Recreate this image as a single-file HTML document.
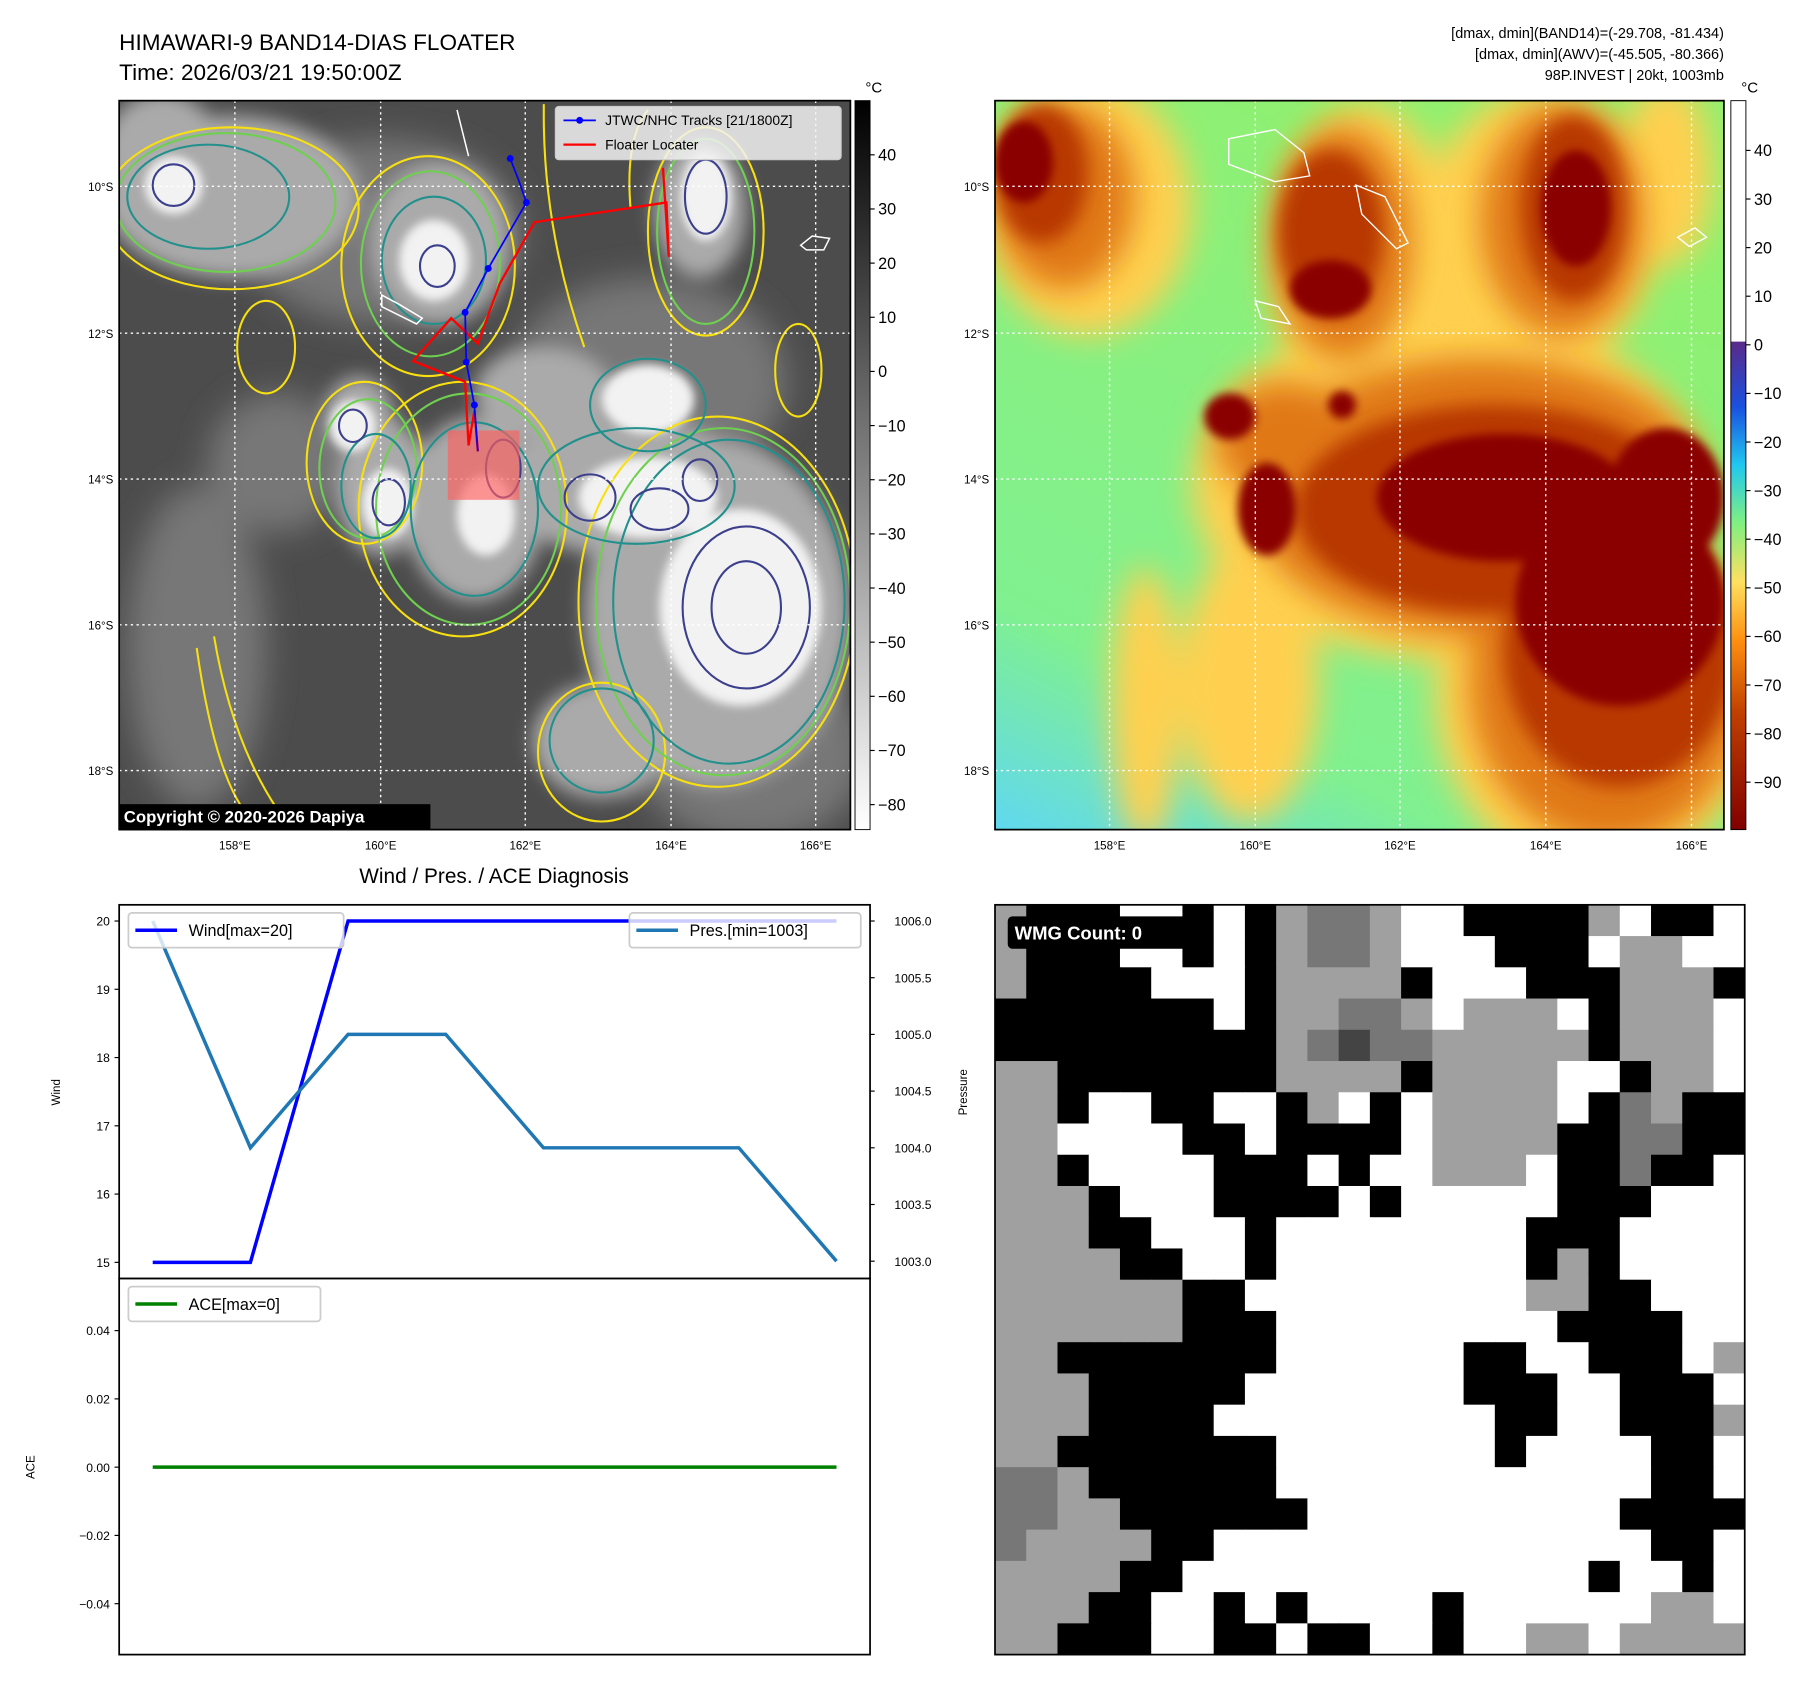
<!DOCTYPE html>
<html><head><meta charset="utf-8"><style>
html,body{margin:0;padding:0;background:#fff;}
svg{display:block;font-family:"Liberation Sans","DejaVu Sans",sans-serif;}
</style></head><body>
<svg id="fig" width="1813" height="1690" viewBox="0 0 1567 1460.6" preserveAspectRatio="none" xmlns="http://www.w3.org/2000/svg">
<defs>
<filter id="b8" x="-50%" y="-50%" width="200%" height="200%"><feGaussianBlur stdDeviation="8"/></filter>
<filter id="b4" x="-50%" y="-50%" width="200%" height="200%"><feGaussianBlur stdDeviation="4"/></filter>
<filter id="b14" x="-50%" y="-50%" width="200%" height="200%"><feGaussianBlur stdDeviation="14"/></filter>
<clipPath id="cl"><rect x="103" y="87" width="632" height="630"/></clipPath>
<clipPath id="cr"><rect x="860" y="87" width="630" height="630"/></clipPath>
<linearGradient id="gcb" x1="0" y1="0" x2="0" y2="1"><stop offset="0" stop-color="#000"/><stop offset="1" stop-color="#fff"/></linearGradient>
<linearGradient id="ccb" x1="0" y1="0" x2="0" y2="1">
<stop offset="0" stop-color="#fff"/><stop offset="0.33" stop-color="#fff"/><stop offset="0.331" stop-color="#5a2a8a"/>
<stop offset="0.42" stop-color="#1a50e0"/><stop offset="0.5" stop-color="#20c8f0"/><stop offset="0.58" stop-color="#80f080"/>
<stop offset="0.66" stop-color="#ffe060"/><stop offset="0.74" stop-color="#ff9010"/><stop offset="0.84" stop-color="#c04000"/><stop offset="1" stop-color="#800000"/></linearGradient>
<linearGradient id="rbg" x1="0" y1="1" x2="0.5" y2="0"><stop offset="0" stop-color="#60d8f0"/><stop offset="0.25" stop-color="#80f090"/><stop offset="1" stop-color="#90f070"/></linearGradient>
</defs>

<text x="103" y="43" font-size="19.5">HIMAWARI-9 BAND14-DIAS FLOATER</text>
<text x="103" y="69" font-size="19.5">Time: 2026/03/21 19:50:00Z</text>
<g font-size="12.5" text-anchor="end">
<text x="1490" y="33">[dmax, dmin](BAND14)=(-29.708, -81.434)</text>
<text x="1490" y="51">[dmax, dmin](AWV)=(-45.505, -80.366)</text>
<text x="1490" y="69">98P.INVEST | 20kt, 1003mb</text>
</g>

<!-- LEFT MAP -->
<g clip-path="url(#cl)">
<rect x="103" y="87" width="632" height="630" fill="#4c4c4c"/>
<g filter="url(#b14)" fill="#777">
<ellipse cx="170" cy="560" rx="60" ry="140"/><ellipse cx="330" cy="200" rx="120" ry="80"/><ellipse cx="560" cy="330" rx="120" ry="90"/>
<ellipse cx="650" cy="650" rx="100" ry="80"/><ellipse cx="240" cy="400" rx="60" ry="60"/>
</g>
<g filter="url(#b8)" fill="#aaa">
<ellipse cx="620" cy="530" rx="115" ry="150"/><ellipse cx="540" cy="420" rx="110" ry="60"/><ellipse cx="410" cy="440" rx="60" ry="80"/>
<ellipse cx="330" cy="420" rx="40" ry="60"/><ellipse cx="380" cy="210" rx="60" ry="70"/><ellipse cx="200" cy="170" rx="110" ry="70"/>
<ellipse cx="605" cy="180" rx="40" ry="60"/><ellipse cx="310" cy="360" rx="30" ry="35"/><ellipse cx="140" cy="130" rx="50" ry="50"/>
<ellipse cx="470" cy="340" rx="60" ry="40"/><ellipse cx="520" cy="640" rx="60" ry="50"/>
</g>
<g filter="url(#b4)" fill="#f2f2f2">
<ellipse cx="640" cy="525" rx="70" ry="85"/><ellipse cx="560" cy="430" rx="60" ry="35"/><ellipse cx="335" cy="435" rx="22" ry="30"/>
<ellipse cx="375" cy="225" rx="30" ry="35"/><ellipse cx="610" cy="170" rx="22" ry="38"/><ellipse cx="305" cy="368" rx="20" ry="22"/>
<ellipse cx="420" cy="445" rx="25" ry="35"/><ellipse cx="150" cy="160" rx="25" ry="25"/><ellipse cx="560" cy="345" rx="40" ry="30"/>
</g>
<g fill="none" stroke-width="1.8">
<g stroke="#f8e010">
<path d="M170 560 Q190 700 230 717 M185 550 Q200 640 240 700"/>
<path d="M505 300 Q470 200 470 100 L470 90"/>
<path d="M545 180 Q540 120 560 95"/>
<ellipse cx="620" cy="520" rx="120" ry="160"/><ellipse cx="400" cy="440" rx="90" ry="110"/><ellipse cx="315" cy="400" rx="50" ry="70"/>
<ellipse cx="200" cy="180" rx="110" ry="70"/><ellipse cx="370" cy="230" rx="75" ry="95"/><ellipse cx="610" cy="200" rx="50" ry="90"/>
<ellipse cx="230" cy="300" rx="25" ry="40"/><ellipse cx="690" cy="320" rx="20" ry="40"/><ellipse cx="520" cy="650" rx="55" ry="60"/>
</g>
<g stroke="#6fd050">
<ellipse cx="625" cy="520" rx="110" ry="150"/><ellipse cx="405" cy="440" rx="80" ry="100"/><ellipse cx="318" cy="405" rx="42" ry="60"/>
<ellipse cx="195" cy="175" rx="95" ry="60"/><ellipse cx="372" cy="228" rx="60" ry="80"/><ellipse cx="610" cy="200" rx="42" ry="80"/>
</g>
<g stroke="#22908c">
<ellipse cx="630" cy="520" rx="100" ry="140"/><ellipse cx="550" cy="420" rx="85" ry="50"/><ellipse cx="410" cy="440" rx="55" ry="75"/>
<ellipse cx="325" cy="420" rx="30" ry="45"/><ellipse cx="180" cy="170" rx="70" ry="45"/><ellipse cx="375" cy="225" rx="45" ry="55"/>
<ellipse cx="560" cy="350" rx="50" ry="40"/><ellipse cx="520" cy="640" rx="45" ry="45"/>
</g>
<g stroke="#3b3f8c">
<ellipse cx="645" cy="525" rx="55" ry="70"/><ellipse cx="645" cy="525" rx="30" ry="40"/><ellipse cx="510" cy="430" rx="22" ry="20"/>
<ellipse cx="570" cy="440" rx="25" ry="18"/><ellipse cx="605" cy="415" rx="15" ry="18"/><ellipse cx="336" cy="434" rx="14" ry="20"/>
<ellipse cx="610" cy="170" rx="18" ry="32"/><ellipse cx="435" cy="405" rx="15" ry="25"/><ellipse cx="150" cy="160" rx="18" ry="18"/>
<ellipse cx="305" cy="368" rx="12" ry="14"/><ellipse cx="378" cy="230" rx="15" ry="18"/>
</g>
<g stroke="#fff" stroke-width="1.3"><path d="M330 255 l15 8 l20 12 l-5 5 l-30 -15z"/><path d="M692 212 l10 -8 l15 2 l-5 10 l-15 0z"/><path d="M395 95 l10 40"/></g>
</g>
<g stroke="#fff" stroke-width="1.2" stroke-dasharray="2,3">
<line x1="103" y1="161" x2="735" y2="161"/><line x1="103" y1="288" x2="735" y2="288"/><line x1="103" y1="414" x2="735" y2="414"/><line x1="103" y1="540" x2="735" y2="540"/><line x1="103" y1="666" x2="735" y2="666"/>
<line x1="203" y1="87" x2="203" y2="717"/><line x1="329" y1="87" x2="329" y2="717"/><line x1="454" y1="87" x2="454" y2="717"/><line x1="580" y1="87" x2="580" y2="717"/><line x1="705" y1="87" x2="705" y2="717"/>
</g>
<rect x="387" y="372" width="62" height="60" fill="#ff6060" opacity="0.65"/>
<polyline points="573,145 578,222 576,175 462,192 432,245 413,297 390,275 357,312 402,330 405,385 410,355 413,390" fill="none" stroke="#f00" stroke-width="2"/>
<polyline points="441,137 448,155 455,175 422,232 402,270 403,313 410,350 413,390" fill="none" stroke="#00f" stroke-width="1.5"/>
<g fill="#00f"><circle cx="441" cy="137" r="3"/><circle cx="455" cy="175" r="3"/><circle cx="422" cy="232" r="3"/><circle cx="402" cy="270" r="3"/><circle cx="403" cy="313" r="3"/><circle cx="410" cy="350" r="3"/></g>
</g>
<rect x="103" y="87" width="632" height="630" fill="none" stroke="#000" stroke-width="1.5"/>
<g>
<rect x="480" y="92" width="247" height="46" rx="3" fill="#f2f2f2" fill-opacity="0.85" stroke="#ccc"/>
<line x1="487" y1="104" x2="515" y2="104" stroke="#00f" stroke-width="1.5"/><circle cx="501" cy="104" r="3" fill="#00f"/>
<text x="523" y="108" font-size="12">JTWC/NHC Tracks [21/1800Z]</text>
<line x1="487" y1="125" x2="515" y2="125" stroke="#f00" stroke-width="2"/>
<text x="523" y="129" font-size="12">Floater Locater</text>
</g>
<g><rect x="103" y="695" width="269" height="22" fill="#000"/>
<text x="107" y="711" font-size="14.5" font-weight="bold" fill="#fff">Copyright © 2020-2026 Dapiya</text></g>
<g font-size="10" text-anchor="end">
<text x="98" y="165">10°S</text><text x="98" y="292">12°S</text><text x="98" y="418">14°S</text><text x="98" y="544">16°S</text><text x="98" y="670">18°S</text></g>
<g font-size="10" text-anchor="middle">
<text x="203" y="734">158°E</text><text x="329" y="734">160°E</text><text x="454" y="734">162°E</text><text x="580" y="734">164°E</text><text x="705" y="734">166°E</text></g>
<g>
<rect x="739" y="87" width="13" height="630" fill="url(#gcb)" stroke="#000" stroke-width="0.8"/>
<text x="748" y="80" font-size="13">°C</text>
<g id="cbl" font-size="14"></g></g>

<!-- RIGHT MAP -->
<g clip-path="url(#cr)">
<rect x="860" y="87" width="630" height="630" fill="url(#rbg)"/>
<g filter="url(#b14)" fill="#ffd050">
<ellipse cx="940" cy="180" rx="90" ry="110"/><ellipse cx="1250" cy="420" rx="220" ry="150"/><ellipse cx="1380" cy="600" rx="140" ry="160"/>
<ellipse cx="1180" cy="230" rx="80" ry="140"/><ellipse cx="1330" cy="200" rx="100" ry="120"/><ellipse cx="1080" cy="590" rx="60" ry="120"/>
<ellipse cx="990" cy="610" rx="30" ry="120"/><ellipse cx="1440" cy="150" rx="40" ry="80"/>
</g>
<g filter="url(#b14)" fill="#e07818">
<ellipse cx="920" cy="170" rx="60" ry="80"/><ellipse cx="1280" cy="430" rx="200" ry="120"/><ellipse cx="1390" cy="590" rx="120" ry="140"/>
<ellipse cx="1160" cy="210" rx="60" ry="100"/><ellipse cx="1350" cy="190" rx="70" ry="100"/><ellipse cx="1110" cy="380" rx="60" ry="50"/>
</g>
<g filter="url(#b8)" fill="#b83800">
<ellipse cx="1290" cy="440" rx="170" ry="90"/><ellipse cx="1400" cy="560" rx="100" ry="120"/><ellipse cx="1150" cy="200" rx="45" ry="70"/>
<ellipse cx="1360" cy="180" rx="45" ry="80"/><ellipse cx="900" cy="150" rx="40" ry="60"/>
</g>
<g filter="url(#b4)" fill="#8a0000">
<ellipse cx="1400" cy="520" rx="90" ry="90"/><ellipse cx="1300" cy="430" rx="110" ry="55"/><ellipse cx="1095" cy="440" rx="25" ry="40"/>
<ellipse cx="1063" cy="360" rx="22" ry="20"/><ellipse cx="1150" cy="250" rx="35" ry="25"/><ellipse cx="1362" cy="180" rx="30" ry="50"/>
<ellipse cx="885" cy="140" rx="25" ry="35"/><ellipse cx="1160" cy="350" rx="12" ry="12"/><ellipse cx="1440" cy="430" rx="50" ry="60"/>
</g>
<g fill="none" stroke="#fff" stroke-width="1.2"><path d="M1062 120 l40 -8 l25 20 l5 20 l-30 5 l-40 -15z"/><path d="M1172 160 l25 10 l20 40 l-10 5 l-30 -30z"/><path d="M1085 260 l20 5 l10 15 l-25 -5z"/><path d="M1450 205 l15 -8 l10 8 l-15 8z"/></g>
</g>
<g stroke="#fff" stroke-width="1.2" stroke-dasharray="2,3">
<line x1="860" y1="161" x2="1490" y2="161"/><line x1="860" y1="288" x2="1490" y2="288"/><line x1="860" y1="414" x2="1490" y2="414"/><line x1="860" y1="540" x2="1490" y2="540"/><line x1="860" y1="666" x2="1490" y2="666"/>
<line x1="959" y1="87" x2="959" y2="717"/><line x1="1085" y1="87" x2="1085" y2="717"/><line x1="1210" y1="87" x2="1210" y2="717"/><line x1="1336" y1="87" x2="1336" y2="717"/><line x1="1462" y1="87" x2="1462" y2="717"/>
</g>
<rect x="860" y="87" width="630" height="630" fill="none" stroke="#000" stroke-width="1.5"/>
<g font-size="10" text-anchor="end">
<text x="855" y="165">10°S</text><text x="855" y="292">12°S</text><text x="855" y="418">14°S</text><text x="855" y="544">16°S</text><text x="855" y="670">18°S</text></g>
<g font-size="10" text-anchor="middle">
<text x="959" y="734">158°E</text><text x="1085" y="734">160°E</text><text x="1210" y="734">162°E</text><text x="1336" y="734">164°E</text><text x="1462" y="734">166°E</text></g>
<g>
<rect x="1496" y="87" width="13" height="630" fill="url(#ccb)" stroke="#000" stroke-width="0.8"/>
<text x="1505" y="80" font-size="13">°C</text>
<g id="cbr" font-size="14"></g></g>

<text x="427" y="763" font-size="18" text-anchor="middle">Wind / Pres. / ACE Diagnosis</text>
<g id="diag"></g>

<g id="wmg"></g>
</svg>
<script>
const NS='http://www.w3.org/2000/svg';
function mk(tag,attrs,parent,txt){const e=document.createElementNS(NS,tag);for(const k in attrs)e.setAttribute(k,attrs[k]);if(txt!==undefined)e.textContent=txt;parent.appendChild(e);return e;}

const leftCbTicks=[40,30,20,10,0,-10,-20,-30,-40,-50,-60,-70,-80];
const rightCbTicks=[40,30,20,10,0,-10,-20,-30,-40,-50,-60,-70,-80,-90];
const cbl=document.getElementById('cbl');
leftCbTicks.forEach(v=>{const y=321-v*4.68;
 mk('line',{x1:752,y1:y,x2:756,y2:y,stroke:'#000'},cbl);
 const t=mk('text',{x:759,y:y+5},cbl,v<0?'\u2212'+(-v):String(v));
 
 });
const cbr=document.getElementById('cbr');
rightCbTicks.forEach(v=>{const y=298-v*4.2;
 mk('line',{x1:1509,y1:y,x2:1513,y2:y,stroke:'#000'},cbr);
 const t=mk('text',{x:1516,y:y+5},cbr,v<0?'\u2212'+(-v):String(v));
 
 });

const timeIdx=[0,1,2,3,4,5,6,7];
const windVals=[15,15,20,20,20,20,20,20];
const presVals=[1006,1004,1005,1005,1004,1004,1004,1003];
const aceVals=[0,0,0,0,0,0,0,0];
const windTicks=[15,16,17,18,19,20];
const presTicks=[1003.0,1003.5,1004.0,1004.5,1005.0,1005.5,1006.0];
const aceTicks=[-0.04,-0.02,0.00,0.02,0.04];

const L=103,R=752,T1=782,B1=1105,T2=1105,B2=1430;
const xS=i=>132+i*(723-132)/7;
const yW=v=>1091-(v-15)*(1091-796)/5;
const yP=v=>1090-(v-1003)*(1090-796)/3;
const yA=v=>1268-v*(1268-1150)/0.04;
const d=document.getElementById('diag');

const wp=mk('rect',{x:L,y:T1,width:R-L,height:B1-T1,fill:'#fff',stroke:'#000','stroke-width':1.5},d);


const ap=mk('rect',{x:L,y:T2,width:R-L,height:B2-T2,fill:'#fff',stroke:'#000','stroke-width':1.5},d);



windTicks.forEach(v=>{const y=yW(v);mk('line',{x1:L-4,y1:y,x2:L,y2:y,stroke:'#000'},d);
 const t=mk('text',{x:L-8,y:y+4,'font-size':10.5,'text-anchor':'end'},d,String(v));
 
 });
presTicks.forEach(v=>{const y=yP(v);mk('line',{x1:R,y1:y,x2:R+4,y2:y,stroke:'#000'},d);
 const t=mk('text',{x:R+21,y:y+4,'font-size':10.5},d,v.toFixed(1));
 
 });
aceTicks.forEach(v=>{const y=yA(v);mk('line',{x1:L-4,y1:y,x2:L,y2:y,stroke:'#000'},d);
 const t=mk('text',{x:L-8,y:y+4,'font-size':10.5,'text-anchor':'end'},d,(v<0?'\u2212':'')+Math.abs(v).toFixed(2));
 
 });
let t=mk('text',{x:52,y:944,'font-size':10,'text-anchor':'middle',transform:'rotate(-90 52 944)'},d,'Wind');

t=mk('text',{x:836,y:944,'font-size':10,'text-anchor':'middle',transform:'rotate(-90 836 944)'},d,'Pressure');

t=mk('text',{x:30,y:1268,'font-size':10,'text-anchor':'middle',transform:'rotate(-90 30 1268)'},d,'ACE');


const wl=mk('polyline',{points:timeIdx.map(i=>xS(i)+','+yW(windVals[i])).join(' '),fill:'none',stroke:'#0000ff','stroke-width':3},d);

const pl=mk('polyline',{points:timeIdx.map(i=>xS(i)+','+yP(presVals[i])).join(' '),fill:'none',stroke:'#1f77b4','stroke-width':3},d);

const al=mk('polyline',{points:timeIdx.map(i=>xS(i)+','+yA(aceVals[i])).join(' '),fill:'none',stroke:'#008000','stroke-width':3},d);


function legend(x,y,w,color,label,name){const g=mk('g',{},d);
 
 mk('rect',{x:x,y:y,width:w,height:30,rx:3,fill:'#fff','fill-opacity':0.8,stroke:'#ccc','stroke-width':1.5},g);
 mk('line',{x1:x+6,y1:y+15,x2:x+42,y2:y+15,stroke:color,'stroke-width':3},g);
 mk('text',{x:x+52,y:y+20,'font-size':14},g,label);}
legend(111,789,186,'#0000ff','Wind[max=20]','wind-legend');
legend(544,789,200,'#1f77b4','Pres.[min=1003]','pressure-legend');
legend(111,1112,166,'#008000','ACE[max=0]','ace-legend');

const wmgRows=[
"GBBBWWBWBGDDGWWBBBBGWBBW",
"GBBBWWBWBGDDGWWWBBBWGGWW",
"GBBBBWWWBGGGGBWWWBBBGGGB",
"BBBBBBBWBGGDDGWGGGWBGGGW",
"BBBBBBBBBGDKDDGGGGGBGGGW",
"GGBBBBBBBGGGGBGGGGWWBGGW",
"GGBWWBBWWBGWBWGGGGWBDGBB",
"GGWWWWBBWBBBBWGGGGBBDDBB",
"GGBWWWWBBBWBWWGGGWBBDBBW",
"GGGBWWWBBBBWBWWWWWBBBWWW",
"GGGBBWWWBWWWWWWWWBBBWWWW",
"GGGGBBWWBWWWWWWWWBGBWWWW",
"GGGGGGBBWWWWWWWWWGGBBWWW",
"GGGGGGBBBWWWWWWWWWBBBBWW",
"GGBBBBBBBWWWWWWBBWWBBBWG",
"GGGBBBBBWWWWWWWBBBWWBBBW",
"GGGBBBBWWWWWWWWWBBWWBBBG",
"GGBBBBBBBWWWWWWWBWWWWBBW",
"DDGBBBBBBWWWWWWWWWWWWBBW",
"DDGGBBBBBBWWWWWWWWWWBBBB",
"DGGGGBBWWWWWWWWWWWWWWBBW",
"GGGGBBWWWWWWWWWWWWWBWWBW",
"GGGBBWWBWBWWWWBWWWWWWGGW",
"GGBBBWWBBWBBWWBWWGGWGGGG"];
const wmgColors={W:'#ffffff',B:'#000000',G:'#a0a0a0',D:'#777777',K:'#444444'};
const wg=document.getElementById('wmg');
const cs=648/24;
wmgRows.forEach((row,r)=>{[...row].forEach((c,k)=>{
 mk('rect',{x:860+k*cs,y:782+r*cs,width:cs+0.5,height:cs+0.5,fill:wmgColors[c]},wg);});});
mk('rect',{x:860,y:782,width:648,height:648,fill:'none',stroke:'#000','stroke-width':1.5},wg);
const wb=mk('g',{},wg);


mk('rect',{x:871,y:792,width:155,height:28,rx:4,fill:'#000'},wb);
mk('text',{x:877,y:812,'font-size':16,'font-weight':'bold',fill:'#fff'},wb,'WMG Count: 0');
</script>
</body></html>
